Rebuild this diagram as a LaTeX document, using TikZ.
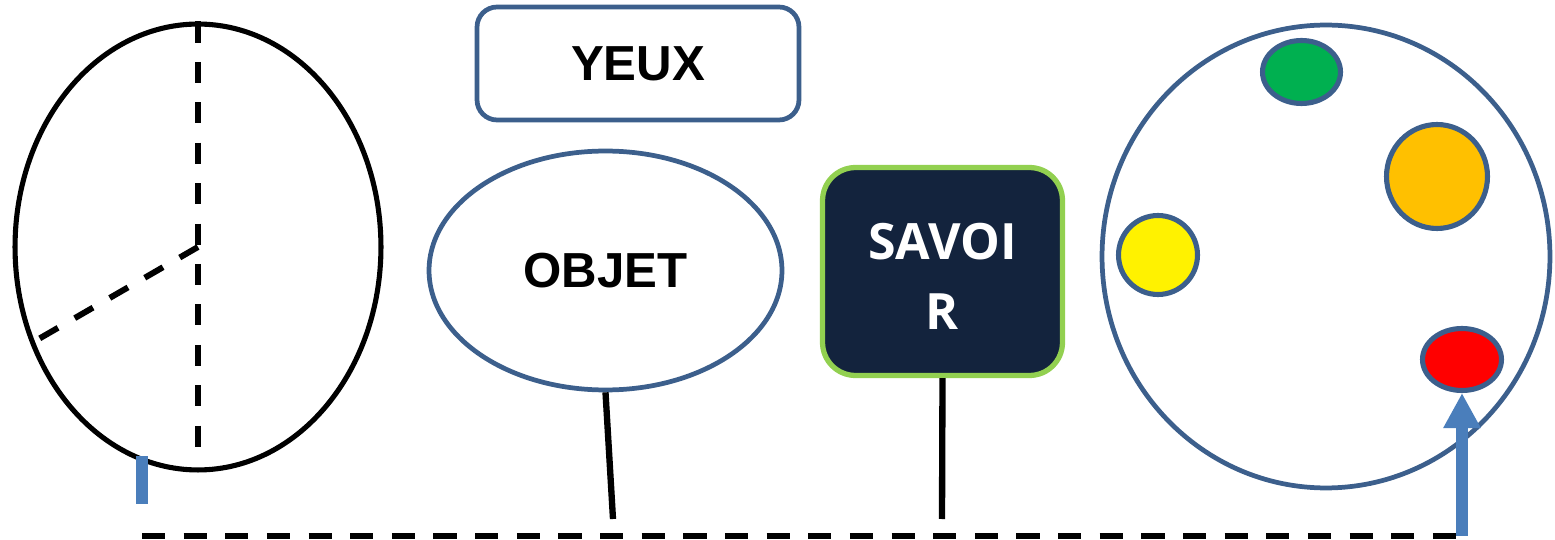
\documentclass[tikz,border=0pt]{standalone}
\usepackage{fontspec}
\setmainfont{Liberation Sans}
\newfontfamily\savoirfont{Open Sans}
\usetikzlibrary{shapes.geometric,arrows.meta}
\definecolor{bordbleu}{HTML}{3C5F8C}
\definecolor{flechebleu}{HTML}{4A7EBB}
\definecolor{nuit}{HTML}{13233D}
\definecolor{vertclair}{HTML}{92D050}
\definecolor{vertpion}{HTML}{00B050}
\definecolor{orangepion}{HTML}{FFC000}
\begin{document}
\begin{tikzpicture}
[x=0.02cm, y=-0.02cm,
 forme/.style={draw=bordbleu, line width=2.7pt, ellipse, inner sep=0pt},
 pion/.style={forme, line width=2.9pt},
 titre/.style={font=\fontsize{28}{33}\selectfont\bfseries},
 trait/.style={line width=3.6pt},
 pointille/.style={line width=3.4pt, dash pattern=on 12pt off 11pt}]
\useasboundingbox (0,0) rectangle (1555,540);
% la tete
\node [ellipse, draw, line width=2.9pt, minimum width=7.32cm, minimum height=8.92cm] (tete) at (198,247) {};
\draw [pointille] (tete.north) -- ([yshift=0.14cm]tete.south);
\draw [pointille] (tete.center) -- (tete.210);
\coordinate (repere) at (142,456);
\draw [flechebleu, line width=6.8pt] (repere) -- ++(0,48);
% yeux, objet, savoir
\node [draw=bordbleu, line width=2.7pt, rounded corners=0.4cm, minimum width=6.44cm, minimum height=2.26cm, titre] (yeux) at (638,63.5) {YEUX};
\node [forme, minimum width=7.06cm, minimum height=4.78cm, titre] (objet) at (605.5,270.5) {OBJET};
\node [fill=nuit, draw=vertclair, line width=3pt, rounded corners=0.66cm, minimum width=4.8cm, minimum height=4.16cm, align=center, text=white, font=\savoirfont\bfseries\fontsize{28.5}{40}\selectfont] (savoir) at (942.5,271.5) {\rule{0pt}{26.5pt}SAVOI\\R};
\coordinate (pied objet) at (613,519);
\coordinate (pied savoir) at (942,519);
\draw [trait] (objet.south) -- (pied objet);
\draw [trait] (savoir.south) -- (pied savoir);
% le plateau
\node [forme, minimum width=8.96cm, minimum height=9.26cm] (plateau) at (1326,256.5) {};
\node [pion, fill=vertpion, minimum width=1.56cm, minimum height=1.26cm] (vert) at (1301.5,72) {};
\node [pion, fill=orangepion, minimum width=2.02cm, minimum height=2.08cm] (orange) at (1437,176.5) {};
\node [pion, fill=yellow, minimum width=1.58cm, minimum height=1.58cm] (jaune) at (1158,255) {};
\node [pion, fill=red, minimum width=1.58cm, minimum height=1.24cm] (rouge) at (1462,359.5) {};
% le chemin
\coordinate (debut) at (142,536);
\coordinate (fin) at (1462,536);
\draw [line width=3.4pt, dash pattern=on 13.2pt off 10.5pt] (debut) -- (fin);
\draw [-{Triangle[width=0.7cm, length=0.7cm]}, flechebleu, line width=6.8pt] (fin) -- (rouge.south);
\end{tikzpicture}
\end{document}
